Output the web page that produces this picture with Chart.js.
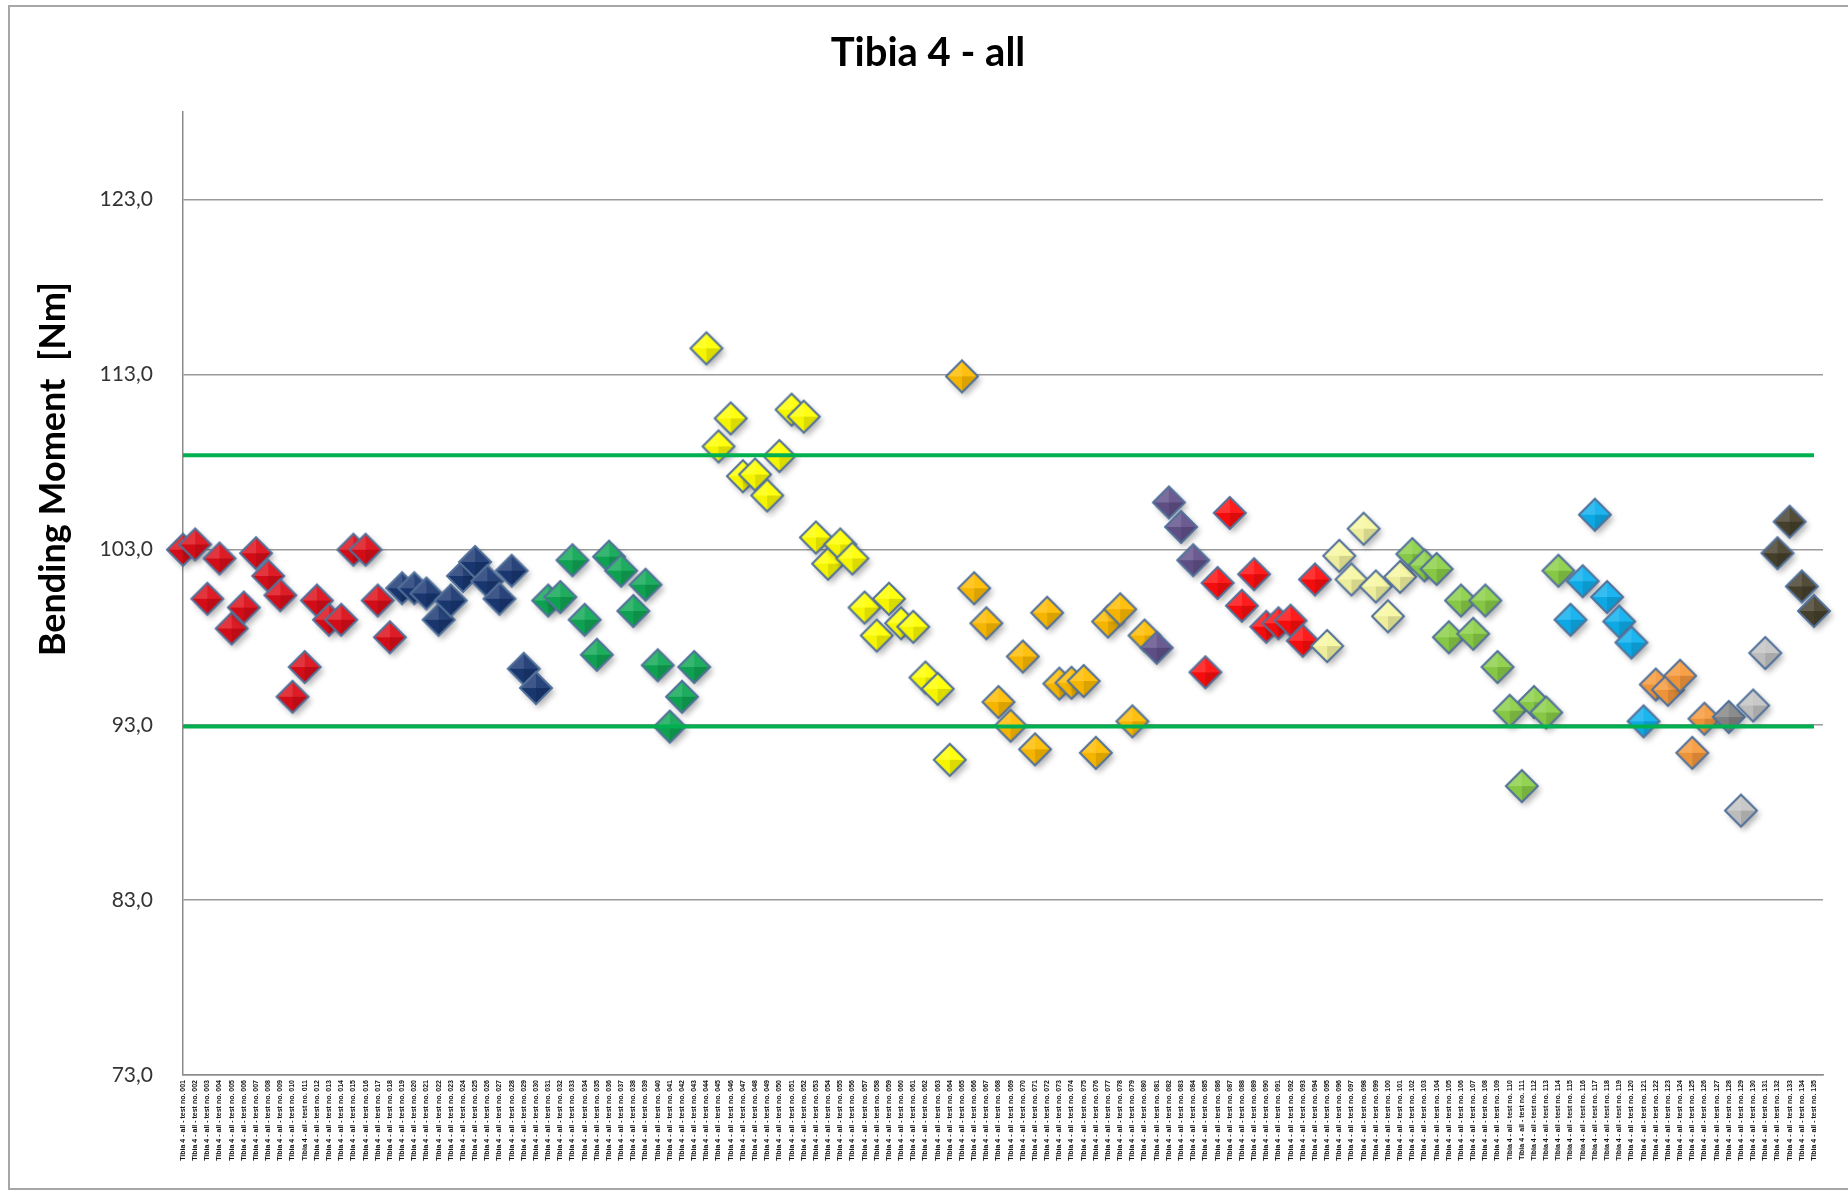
<!DOCTYPE html>
<html>
<head>
<meta charset="utf-8">
<title>Tibia 4 - all</title>
<script src="https://cdn.jsdelivr.net/npm/chart.js@4.4.1/dist/chart.umd.min.js"></script>
<style>
  html, body { margin: 0; padding: 0; background: #fff; }
  #wrap { position: relative; width: 1848px; height: 1194px; overflow: hidden; }
  #frame { position: absolute; left: 8px; top: 5px; width: 1900px; height: 1181px; border: 2px solid #a6a6a6; pointer-events: none; }
</style>
</head>
<body>
<div id="wrap">
  <canvas id="tibiaChart" width="1848" height="1194"></canvas>
  <div id="frame"></div>
</div>
<script>
// Category labels are too small to read in the source, so they are just numbered tests
const testCount = 135;
const categories = Array.from({ length: testCount }, (_, i) => 'Tibia 4 - all - test no. ' + String(i + 1).padStart(3, '0'));

// y axis
const yMin = 73;
const yMax = 128;
const yTicks = [73, 83, 93, 103, 113, 123];

// green limit lines
const limitUpper = 108.4;
const limitLower = 92.9;

// each group starts at a category index (Nm)
const red1Start = 0;
const red1 = [103.0, 103.3, 100.2, 102.5, 98.5, 99.7, 102.8, 101.5, 100.4, 94.6, 96.3, 100.1, 99.0, 99.0, 103.0, 103.0, 100.1, 98.0];
const navyStart = 18;
const navy = [100.8, 100.8, 100.5, 99.0, 100.1, 101.5, 102.3, 101.2, 100.2, 101.8, 96.2, 95.1];
const greenStart = 30;
const green = [100.1, 100.3, 102.4, 99.0, 97.0, 102.6, 101.8, 99.5, 101.0, 96.4, 92.9, 94.6, 96.3];
const yellowStart = 43;
const yellow = [114.5, 108.9, 110.5, 107.2, 107.3, 106.1, 108.35, 111.0, 110.6, 103.7, 102.2, 103.3, 102.5, 99.7, 98.1, 100.2, 98.8, 98.6, 95.7, 95.05, 91.0];
const amberStart = 64;
const amber = [112.9, 100.8, 98.8, 94.3, 92.95, 96.9, 91.6, 99.4, 95.35, 95.4, 95.5, 91.4, 98.9, 99.6, 93.2, 98.1];
const purpleStart = 80;
const purple = [97.4, 105.7, 104.3, 102.4];
const red2Start = 84;
const red2 = [96.0, 101.1, 105.1, 99.8, 101.6, 98.6, 98.8, 98.95, 97.8, 101.3];
const paleYellowStart = 94;
const paleYellow = [97.5, 102.65, 101.3, 104.2, 100.9, 99.2, 101.45];
const lightGreenStart = 101;
const lightGreen = [102.75, 102.1, 101.9, 98.0, 100.1, 98.2, 100.1, 96.3, 93.8, 89.5, 94.3, 93.7, 101.8];
const cyanStart = 114;
const cyan = [99.0, 101.2, 105.0, 100.3, 98.9, 97.7, 93.2];
const lightOrangeStart = 121;
const lightOrange = [95.3, 95.0, 95.8, 91.4, 93.35];
const darkGrayStart = 127;
const darkGray = [93.45];
const lightGrayStart = 128;
const lightGray = [88.1, 94.1, 97.1];
const oliveStart = 131;
const olive = [102.8, 104.6, 100.9, 99.5];

const groups = [
    { start: red1Start, values: red1, color: '#dc0e18' },
    { start: navyStart, values: navy, color: '#1a3873' },
    { start: greenStart, values: green, color: '#10a855' },
    { start: yellowStart, values: yellow, color: '#ffff00' },
    { start: amberStart, values: amber, color: '#ffbc00' },
    { start: purpleStart, values: purple, color: '#62518a' },
    { start: red2Start, values: red2, color: '#ff0e0e' },
    { start: paleYellowStart, values: paleYellow, color: '#f7f7a2' },
    { start: lightGreenStart, values: lightGreen, color: '#8ccf48' },
    { start: cyanStart, values: cyan, color: '#0eb0ee' },
    { start: lightOrangeStart, values: lightOrange, color: '#f79a3c' },
    { start: darkGrayStart, values: darkGray, color: '#858585' },
    { start: lightGrayStart, values: lightGray, color: '#c4c4c4' },
    { start: oliveStart, values: olive, color: '#47412c' }
];

// lighten (amt > 0) or darken (amt < 0) a hex colour
function shade(hex, amt) {
    const n = parseInt(hex.slice(1), 16);
    const t = amt < 0 ? 0 : 255, p = Math.abs(amt);
    const mix = v => Math.round(v + (t - v) * p);
    return `rgb(${mix(n >> 16)},${mix((n >> 8) & 255)},${mix(n & 255)})`;
}

// bevelled diamond marker like the Excel one
function diamond(color) {
    const size = 52, c = size / 2, r = 16;
    const cv = document.createElement('canvas');
    cv.width = size; cv.height = size;
    const g = cv.getContext('2d');
    const tips = [[c - r, c], [c, c - r], [c + r, c], [c, c + r]];
    const outline = () => {
        g.beginPath();
        g.moveTo(tips[0][0], tips[0][1]);
        for (let k = 1; k < 4; k++) g.lineTo(tips[k][0], tips[k][1]);
        g.closePath();
    };
    g.save();
    g.shadowColor = 'rgba(0,0,0,0.3)';
    g.shadowBlur = 6;
    g.shadowOffsetX = 3;
    g.shadowOffsetY = 4;
    outline();
    g.fillStyle = color;
    g.fill();
    g.restore();
    [[0, 1, 0.16], [1, 2, 0.06], [2, 3, -0.14], [3, 0, -0.04]].forEach(([a, b, amt]) => {
        g.beginPath();
        g.moveTo(c, c);
        g.lineTo(tips[a][0], tips[a][1]);
        g.lineTo(tips[b][0], tips[b][1]);
        g.closePath();
        g.fillStyle = shade(color, amt);
        g.fill();
    });
    outline();
    g.lineWidth = 2;
    g.strokeStyle = '#52719a';
    g.stroke();
    return cv;
}

// rotated y axis title, sits above the plot middle like in the source
const yTitlePlugin = {
    id: 'yTitle',
    afterDraw(chart) {
        const ctx = chart.ctx;
        ctx.save();
        ctx.translate(53, 469);
        ctx.rotate(-Math.PI / 2);
        ctx.font = 'bold 36px Lato';
        ctx.textAlign = 'center';
        ctx.textBaseline = 'middle';
        ctx.fillStyle = '#000';
        ctx.fillText('Bending Moment  [Nm]', 0, 0);
        ctx.restore();
    }
};

function buildChart() {
    const scatterSets = groups.map((grp, i) => ({
        label: 'group ' + (i + 1),
        data: grp.values.map((v, k) => ({ x: grp.start + k, y: v })),
        showLine: false,
        pointStyle: diamond(grp.color),
        pointRadius: 16,
        clip: false,
        order: groups.length - i + 1
    }));
    const limitSets = [limitUpper, limitLower].map(v => ({
        label: 'limit ' + v,
        data: [{ x: 0, y: v }, { x: testCount - 1, y: v }],
        showLine: true,
        borderColor: '#00b050',
        borderWidth: 4,
        pointRadius: 0,
        order: 0
    }));

    new Chart(document.getElementById('tibiaChart'), {
        type: 'scatter',
        data: { datasets: scatterSets.concat(limitSets) },
        options: {
            responsive: false,
            animation: false,
            events: [],
            layout: { padding: { left: 33, right: 25, top: 0, bottom: 0 } },
            plugins: {
                legend: { display: false },
                tooltip: { enabled: false },
                title: {
                    display: true,
                    text: 'Tibia 4 - all',
                    color: '#000',
                    font: { family: 'Lato', size: 40, weight: 'bold' },
                    padding: { top: 29, bottom: 35 }
                }
            },
            scales: {
                x: {
                    type: 'linear',
                    min: 0,
                    max: testCount - 1 + 0.74,
                    afterBuildTicks: s => { s.ticks = categories.map((_, i) => ({ value: i })); },
                    afterFit: s => { s.height = 119; },
                    ticks: {
                        autoSkip: false,
                        minRotation: 90,
                        maxRotation: 90,
                        padding: 5,
                        color: '#111',
                        font: { family: 'Liberation Sans', size: 7, weight: 'bold' },
                        callback: v => categories[v]
                    },
                    grid: { display: false, drawTicks: false },
                    border: { display: true, color: '#8c8c8c', width: 1.5 }
                },
                y: {
                    min: yMin,
                    max: yMax,
                    afterBuildTicks: s => { s.ticks = yTicks.map(v => ({ value: v })); },
                    afterFit: s => { s.width = 150; },
                    ticks: {
                        padding: 30,
                        color: '#333',
                        font: { family: 'Lato', size: 21 },
                        callback: v => v.toFixed(1).replace('.', ',')
                    },
                    grid: { color: '#9a9a9a', lineWidth: 1.5, drawTicks: false },
                    border: { display: true, color: '#8c8c8c', width: 1.5 }
                }
            }
        },
        plugins: [yTitlePlugin]
    });
}

Promise.all([
    document.fonts.load('bold 40px Lato'),
    document.fonts.load('21px Lato'),
    document.fonts.load('bold 7px "Liberation Sans"')
]).then(buildChart, buildChart);
</script>
</body>
</html>
